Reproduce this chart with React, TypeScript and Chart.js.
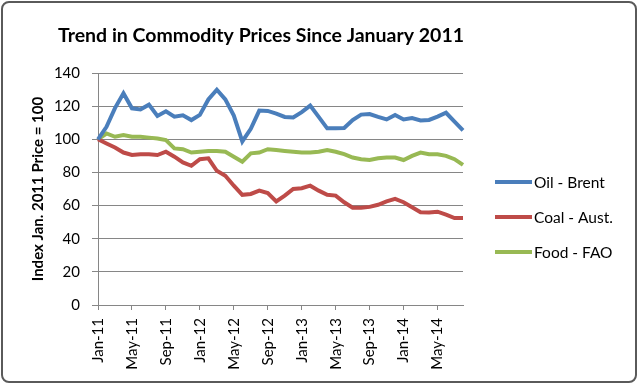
import React, { useEffect, useRef } from 'react';
import { Chart, registerables } from 'chart.js';

Chart.register(...registerables);

const titleText = 'Trend in Commodity Prices Since January 2011';
const yAxisTitle = 'Index Jan. 2011 Price = 100';

const months = [
  'Jan-11', 'Feb-11', 'Mar-11', 'Apr-11', 'May-11', 'Jun-11', 'Jul-11', 'Aug-11', 'Sep-11', 'Oct-11', 'Nov-11', 'Dec-11',
  'Jan-12', 'Feb-12', 'Mar-12', 'Apr-12', 'May-12', 'Jun-12', 'Jul-12', 'Aug-12', 'Sep-12', 'Oct-12', 'Nov-12', 'Dec-12',
  'Jan-13', 'Feb-13', 'Mar-13', 'Apr-13', 'May-13', 'Jun-13', 'Jul-13', 'Aug-13', 'Sep-13', 'Oct-13', 'Nov-13', 'Dec-13',
  'Jan-14', 'Feb-14', 'Mar-14', 'Apr-14', 'May-14', 'Jun-14', 'Jul-14', 'Aug-14',
];

const oilBrent = [
  100, 107.5, 118.8, 127.8, 118.7, 118, 120.9, 114.1, 116.9, 113.6, 114.5, 111.6,
  114.7, 124, 129.9, 124.1, 114.3, 98.7, 106.3, 117.3, 117.1, 115.5, 113.5, 113.2,
  116.4, 120.3, 113.5, 106.6, 106.7, 106.8, 111.6, 114.9, 115.2, 113.5, 112, 114.7,
  112, 112.8, 111.4, 111.7, 113.7, 116, 110.7, 105.4,
];

const coalAust = [
  100, 97.5, 95, 92, 90.5, 91, 91, 90.5, 92.5, 89.5, 86, 84,
  88, 88.5, 81, 78, 72, 66.5, 67, 69, 67.5, 62.5, 66, 70,
  70.5, 72, 69, 66.5, 66, 62, 58.7, 58.7, 59.2, 60.5, 62.5, 64,
  62, 59, 56, 55.8, 56.3, 54.5, 52.5, 52.5,
];

const foodFAO = [
  100, 103.5, 101.5, 102.5, 101.5, 101.5, 101, 100.5, 99.5, 94.5, 94, 92,
  92.5, 93, 93, 92.5, 89.5, 86.5, 91.5, 92, 94, 93.5, 93, 92.5,
  92, 92, 92.5, 93.5, 92.5, 91, 89, 88, 87.5, 88.5, 89, 89,
  87.5, 90, 92, 91, 91, 90, 88, 84.5,
];

const seriesNames = ['Oil - Brent', 'Coal - Aust.', 'Food - FAO'];
const seriesColors = ['#4a7ebb', '#be4b48', '#98b954'];

const yMin = 0;
const yMax = 140;
const yStep = 20;
const labelEvery = 4;

const FONT = 'Lato, "Open Sans", sans-serif';

export default function App() {
  const canvasRef = useRef<HTMLCanvasElement>(null);

  useEffect(() => {
    if (!canvasRef.current) return;

    const decorPlugin = {
      id: 'decor',
      afterDraw(chart: any) {
        const { ctx, chartArea } = chart;
        ctx.save();
        // title
        ctx.fillStyle = '#000';
        ctx.font = `bold 19.5px ${FONT}`;
        ctx.textAlign = 'center';
        ctx.textBaseline = 'middle';
        ctx.fillText(titleText, 261, 36);
        // legend
        chart.data.datasets.forEach((ds: any, i: number) => {
          const y = chartArea.top + 109 + i * 35;
          const x0 = chartArea.right + 32;
          ctx.strokeStyle = ds.borderColor;
          ctx.lineWidth = 4;
          ctx.lineCap = 'butt';
          ctx.beginPath();
          ctx.moveTo(x0, y);
          ctx.lineTo(x0 + 37, y);
          ctx.stroke();
          ctx.fillStyle = '#000';
          ctx.font = `15.5px ${FONT}`;
          ctx.textAlign = 'left';
          ctx.textBaseline = 'middle';
          ctx.fillText(ds.label, x0 + 39, y + 1);
        });
        ctx.restore();
      },
    };

    const chart = new Chart(canvasRef.current, {
      type: 'line',
      data: {
        labels: months,
        datasets: [oilBrent, coalAust, foodFAO].map((d, i) => ({
          label: seriesNames[i],
          data: d,
          borderColor: seriesColors[i],
          backgroundColor: seriesColors[i],
          borderWidth: 4,
          pointRadius: 0,
          tension: 0,
          fill: false,
        })),
      },
      options: {
        responsive: false,
        animation: false,
        layout: { padding: { left: 12, right: 177, top: 73, bottom: 10 } },
        plugins: {
          legend: { display: false },
          tooltip: { enabled: false },
          title: { display: false },
        },
        scales: {
          x: {
            type: 'category',
            offset: false,
            afterFit: (scale: any) => { scale.height = 70; },
            grid: {
              drawOnChartArea: false,
              drawTicks: true,
              tickLength: 5,
              color: (c: any) => (c.index % labelEvery === 0 ? '#868686' : 'rgba(0,0,0,0)'),
            },
            border: { color: '#868686', width: 1 },
            ticks: {
              autoSkip: false,
              maxRotation: 90,
              minRotation: 90,
              padding: 8,
              color: '#000',
              font: { family: FONT, size: 15 },
              callback: (_v: any, i: number) => (i % labelEvery === 0 ? months[i] : ''),
            },
          },
          y: {
            min: yMin,
            max: yMax,
            afterFit: (scale: any) => { scale.width = 86; },
            grid: { color: '#868686', lineWidth: 1, tickLength: 6 },
            border: { color: '#868686', width: 1 },
            ticks: {
              stepSize: yStep,
              padding: 12,
              color: '#000',
              font: { family: FONT, size: 15 },
            },
            title: {
              display: true,
              text: yAxisTitle,
              color: '#000',
              font: { family: FONT, size: 15, weight: 'bold' },
              padding: { top: 17, bottom: 0 },
            },
          },
        },
      },
      plugins: [decorPlugin],
    } as any);

    return () => chart.destroy();
  }, []);

  return (
    <div style={{ position: 'fixed', left: 0, top: 0, width: 640, height: 385, background: '#fff' }}>
      <canvas ref={canvasRef} width={640} height={385} style={{ position: 'absolute', left: 0, top: 0 }} />
      <div
        style={{
          position: 'absolute',
          left: 1,
          top: 1,
          width: 636,
          height: 382,
          boxSizing: 'border-box',
          border: '2px solid #5a5a5a',
          borderRadius: 8,
          pointerEvents: 'none',
        }}
      />
    </div>
  );
}
